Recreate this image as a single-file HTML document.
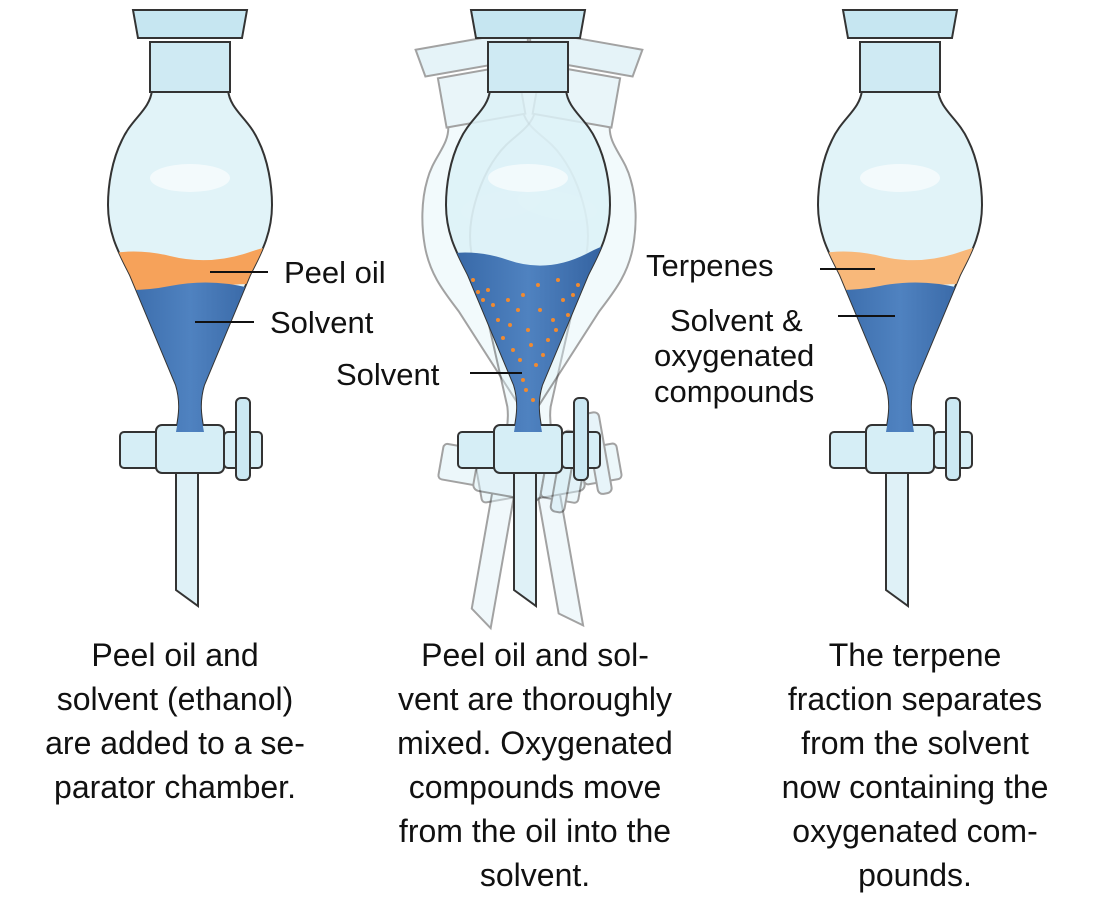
<!DOCTYPE html>
<html><head><meta charset="utf-8"><style>
body{margin:0;background:#fff;width:1110px;height:897px;overflow:hidden}
svg text{font-family:"Liberation Sans",sans-serif;fill:#111}
</style></head><body>
<svg width="1110" height="897" viewBox="0 0 1110 897">
<defs>
<path id="bulb" d="M -38,90 C -40,110 -58,118 -68,140 C -78,160 -82,185 -82,205 C -82,235 -70,255 -60,275 L -14,385 C -8,405 -12,420 -14,432 L 14,432 C 12,420 8,405 14,385 L 60,275 C 70,255 82,235 82,205 C 82,185 78,160 68,140 C 58,118 40,110 38,90 Z"/>
<clipPath id="cp"><use href="#bulb"/></clipPath>
<linearGradient id="blue" x1="0" x2="1"><stop offset="0" stop-color="#2f5f9e"/><stop offset="0.5" stop-color="#4f82c0"/><stop offset="1" stop-color="#2b5896"/></linearGradient>
<g id="glass">
 <path d="M -14,470 L -14,590 L 8,606 L 8,470 Z" fill="#dff1f7" stroke="#333" stroke-width="2"/>
 <use href="#bulb" fill="#dcf1f7" fill-opacity="0.85" stroke="#333" stroke-width="2"/>
 <ellipse cx="0" cy="178" rx="40" ry="14" fill="#fff" opacity="0.6"/>
 <path d="M -40,42 L 40,42 L 40,92 L -40,92 Z" fill="#cfeaf3" stroke="#333" stroke-width="2"/>
 <path d="M -57,10 L 57,10 L 52,38 L -52,38 Z" fill="#c6e6f1" stroke="#333" stroke-width="2"/>
 <rect x="-70" y="432" width="60" height="36" rx="4" fill="#d6eef6" stroke="#333" stroke-width="2"/>
 <rect x="-34" y="425" width="68" height="48" rx="6" fill="#d6eef6" stroke="#333" stroke-width="2"/>
 <rect x="34" y="432" width="38" height="36" rx="4" fill="#d6eef6" stroke="#333" stroke-width="2"/>
 <rect x="46" y="398" width="14" height="82" rx="5" fill="#cbe8f3" stroke="#333" stroke-width="2"/>
</g>
</defs>

<g transform="translate(190,0)">
 <use href="#glass"/>
 <g clip-path="url(#cp)">
  <path d="M -100,258 Q -60,246 -20,256 T 60,252 T 100,256 L 100,288 Q 60,280 20,288 T -100,286 Z" fill="#f6a25a"/>
  <path d="M -100,286 Q -60,294 -20,286 T 60,288 T 100,281 L 100,440 L -100,440 Z" fill="url(#blue)"/>
 </g>
</g>

<g transform="translate(470,30) rotate(-10)" opacity="0.45"><use href="#glass"/></g>
<g transform="translate(588,30) rotate(10)" opacity="0.45"><use href="#glass"/></g>
<g transform="translate(528,0)">
 <use href="#glass"/>
 <g clip-path="url(#cp)">
  <path d="M -100,258 Q -60,246 -20,260 T 60,253 T 100,256 L 100,440 L -100,440 Z" fill="url(#blue)"/>
  <g fill="#f08a30">
   <circle cx="-40" cy="290" r="2"/><circle cx="-20" cy="300" r="2"/><circle cx="10" cy="285" r="2"/><circle cx="35" cy="300" r="2"/><circle cx="-30" cy="320" r="2"/><circle cx="0" cy="330" r="2"/><circle cx="25" cy="320" r="2"/><circle cx="-15" cy="350" r="2"/><circle cx="15" cy="355" r="2"/><circle cx="-5" cy="380" r="2"/><circle cx="5" cy="400" r="2"/><circle cx="50" cy="285" r="2"/><circle cx="-55" cy="280" r="2"/><circle cx="-10" cy="310" r="2"/><circle cx="20" cy="340" r="2"/><circle cx="-25" cy="338" r="2"/><circle cx="40" cy="315" r="2"/>
   <circle cx="-45" cy="300" r="2"/><circle cx="-5" cy="295" r="2"/><circle cx="30" cy="280" r="2"/><circle cx="-35" cy="305" r="2"/><circle cx="12" cy="310" r="2"/><circle cx="-18" cy="325" r="2"/><circle cx="8" cy="365" r="2"/><circle cx="-8" cy="360" r="2"/><circle cx="3" cy="345" r="2"/><circle cx="45" cy="295" r="2"/><circle cx="-50" cy="292" r="2"/><circle cx="28" cy="330" r="2"/><circle cx="-2" cy="390" r="2"/>
  </g>
 </g>
</g>

<g transform="translate(900,0)">
 <use href="#glass"/>
 <g clip-path="url(#cp)">
  <path d="M -100,258 Q -60,246 -20,256 T 60,252 T 100,256 L 100,288 Q 60,280 20,288 T -100,286 Z" fill="#f8b87a"/>
  <path d="M -100,286 Q -60,294 -20,286 T 60,288 T 100,281 L 100,440 L -100,440 Z" fill="url(#blue)"/>
 </g>
</g>

<g stroke="#111" stroke-width="2">
 <line x1="210" y1="272" x2="268" y2="272"/><line x1="195" y1="322" x2="254" y2="322"/>
 <line x1="470" y1="373" x2="522" y2="373"/>
 <line x1="820" y1="269" x2="875" y2="269"/><line x1="838" y1="316" x2="895" y2="316"/>
</g>
<g font-size="31">
 <text x="284" y="283">Peel oil</text>
 <text x="270" y="333">Solvent</text>
 <text x="336" y="385">Solvent</text>
 <text x="646" y="276">Terpenes</text>
 <text x="670" y="331">Solvent &amp;</text>
 <text x="654" y="366">oxygenated</text>
 <text x="654" y="402">compounds</text>
</g>
<g font-size="32" text-anchor="middle">
 <text x="175" y="666">Peel oil and</text>
 <text x="175" y="710">solvent (ethanol)</text>
 <text x="175" y="754">are added to a se-</text>
 <text x="175" y="798">parator chamber.</text>
 <text x="535" y="666">Peel oil and sol-</text>
 <text x="535" y="710">vent are thoroughly</text>
 <text x="535" y="754">mixed. Oxygenated</text>
 <text x="535" y="798">compounds move</text>
 <text x="535" y="842">from the oil into the</text>
 <text x="535" y="886">solvent.</text>
 <text x="915" y="666">The terpene</text>
 <text x="915" y="710">fraction separates</text>
 <text x="915" y="754">from the solvent</text>
 <text x="915" y="798">now containing the</text>
 <text x="915" y="842">oxygenated com-</text>
 <text x="915" y="886">pounds.</text>
</g>
</svg>
</body></html>
